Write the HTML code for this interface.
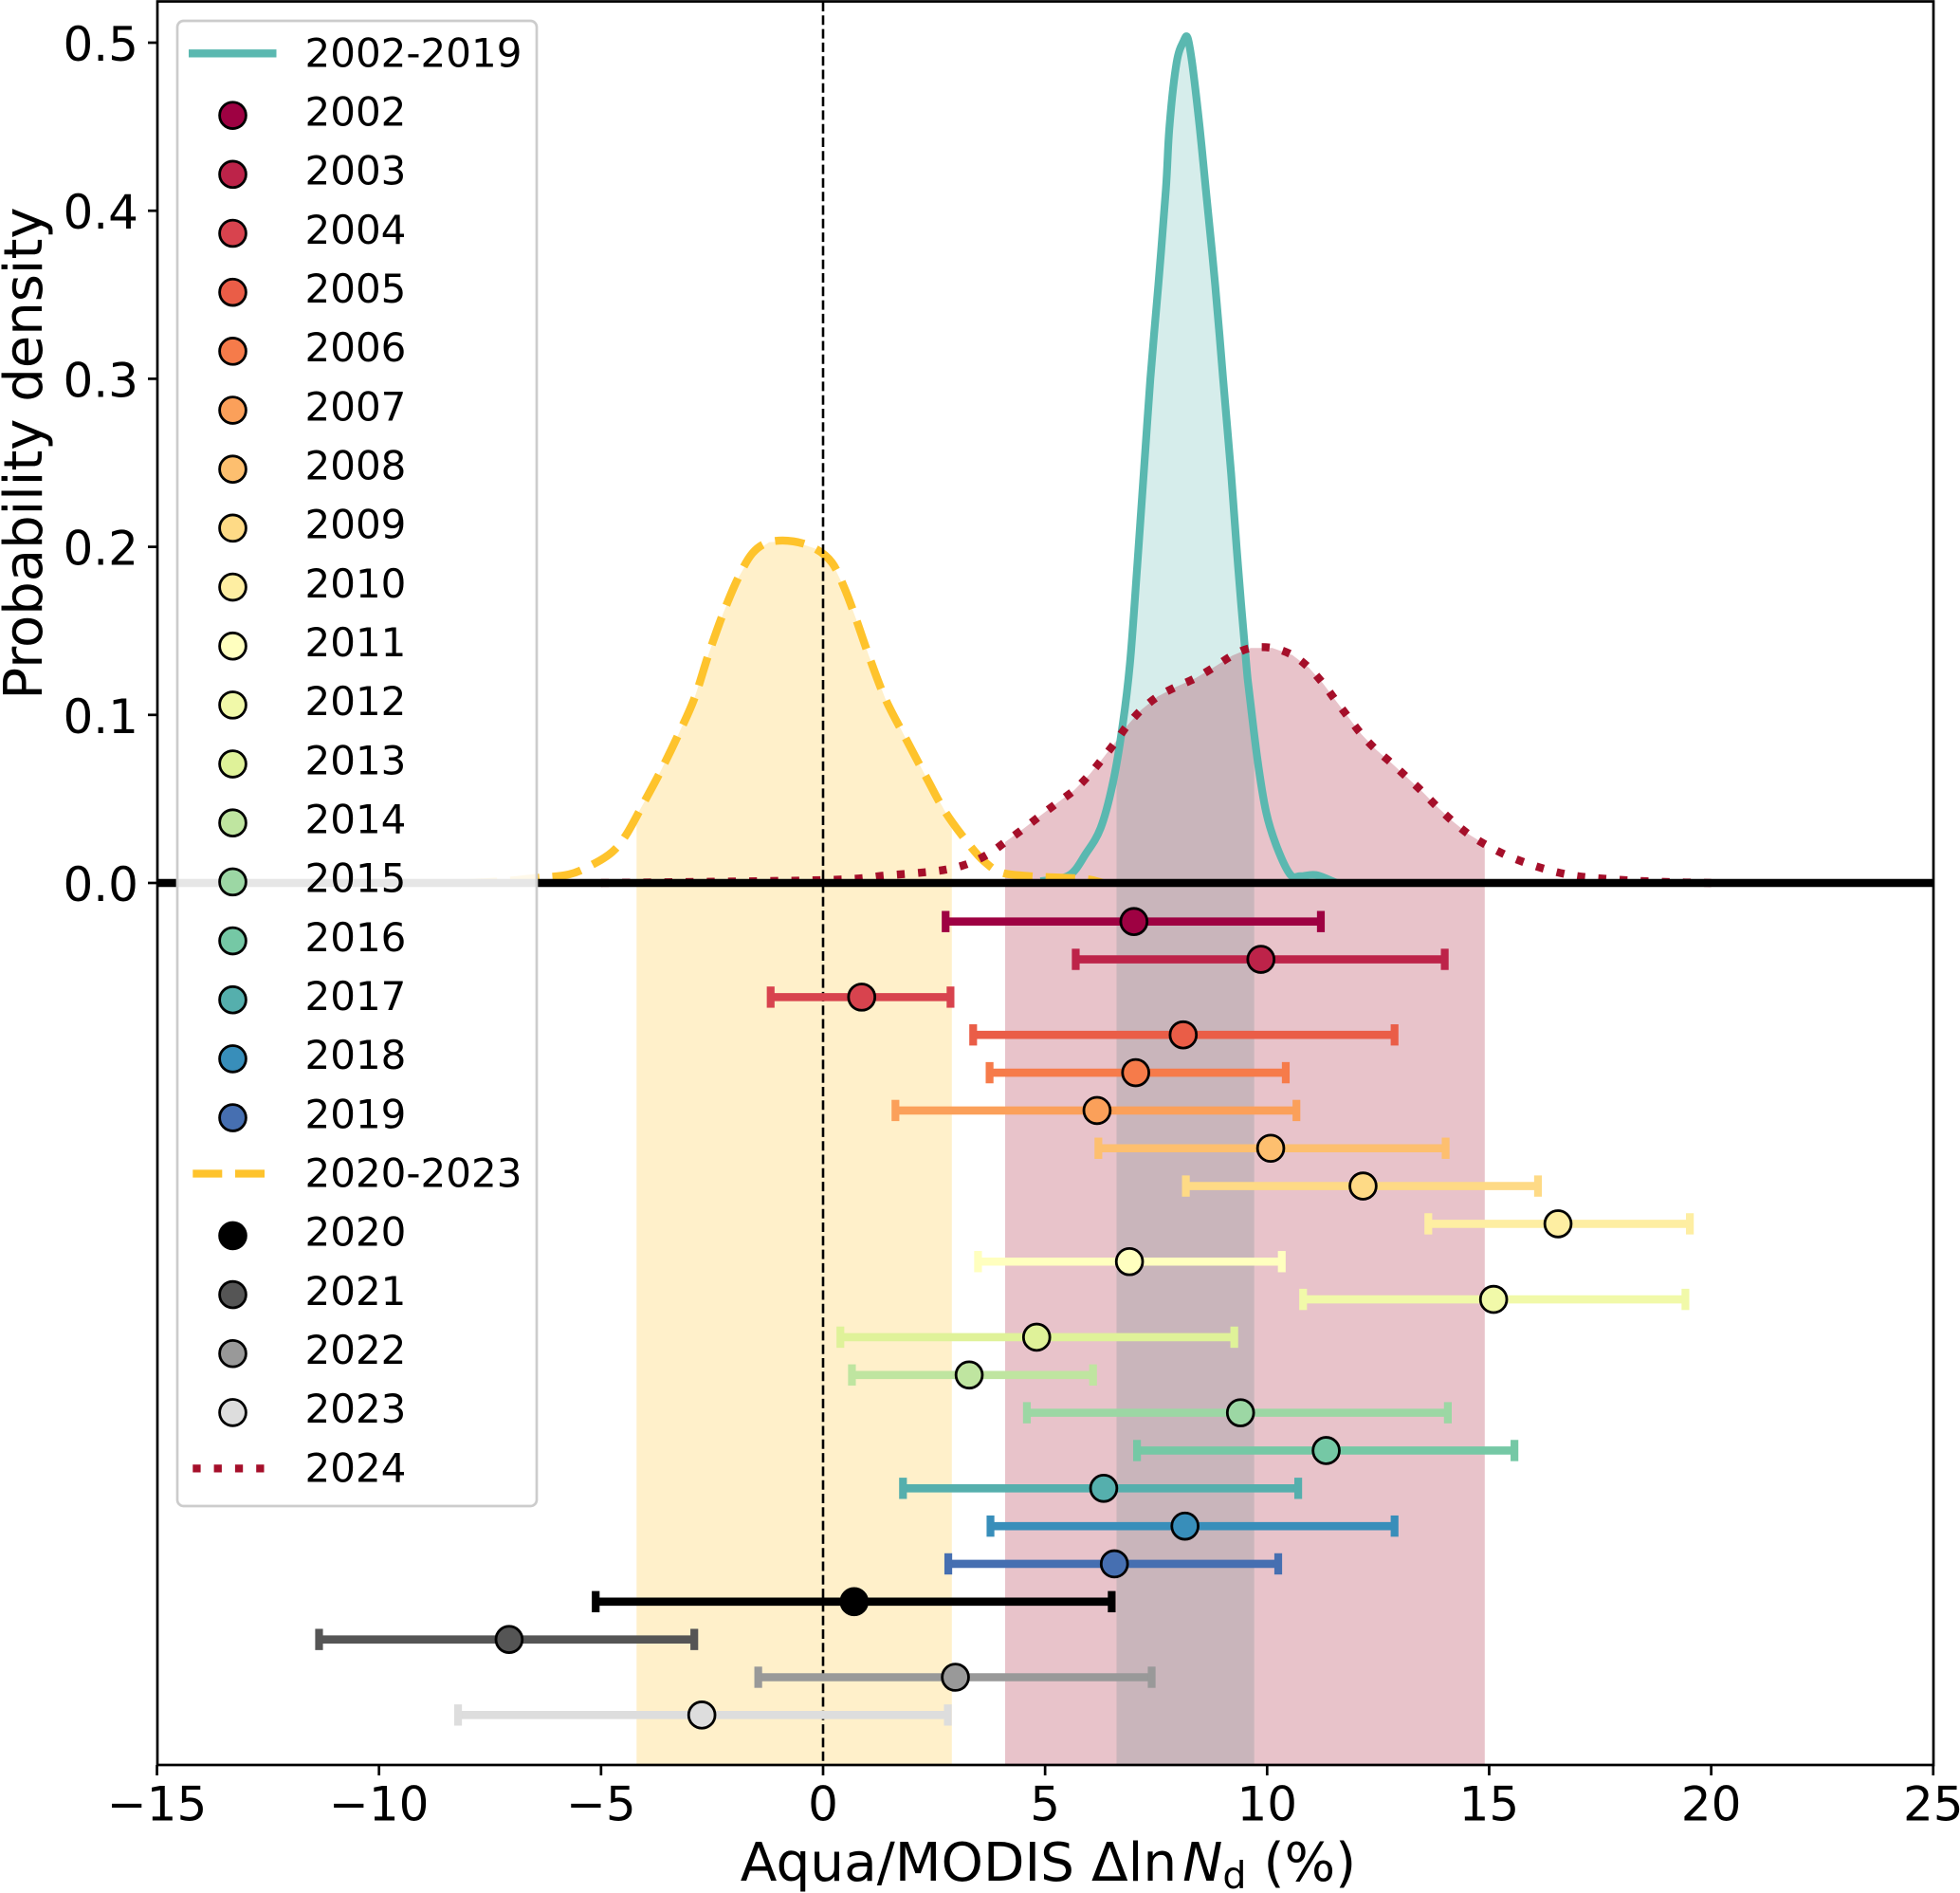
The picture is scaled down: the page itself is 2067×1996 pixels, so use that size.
<!DOCTYPE html>
<html lang="en">
<head>
<meta charset="utf-8">
<title>Aqua/MODIS probability density chart</title>
<style>
html,body{margin:0;padding:0;background:#fff;}
svg{display:block;font-family:"DejaVu Sans","Liberation Sans",sans-serif;}
</style>
</head>
<body>
<svg id="chart" xmlns="http://www.w3.org/2000/svg" width="2067" height="1996" viewBox="0 0 2067 1996">
<rect x="0" y="0" width="2067" height="1996" fill="#ffffff"/>
<defs><clipPath id="plot-clip"><rect x="166" y="2" width="1873" height="1859"/></clipPath></defs>
<g id="fills" clip-path="url(#plot-clip)"></g>
<g id="curves" clip-path="url(#plot-clip)"></g>
<g id="bars" clip-path="url(#plot-clip)"></g>
<g id="legend"></g>
<g id="axes"></g>
<text transform="translate(44,478) rotate(-90)" text-anchor="middle" font-size="56">Probability density</text>
<text x="1105.5" y="1983" text-anchor="middle" font-size="56.5">Aqua/MODIS Δln<tspan dx="6" font-style="italic">N</tspan><tspan font-size="39.5" dy="8">d</tspan><tspan dy="-8"> (%)</tspan></text>
</svg>
<script>
var years = [2002,2003,2004,2005,2006,2007,2008,2009,2010,2011,2012,2013,2014,2015,2016,2017,2018,2019,2020,2021,2022,2023];
var medians = [7.0,9.86,0.87,8.11,7.04,6.17,10.08,12.16,16.55,6.9,15.1,4.81,3.29,9.4,11.33,6.32,8.15,6.56,0.7,-7.07,2.98,-2.73];
var lowerBounds = [2.76,5.69,-1.18,3.38,3.75,1.63,6.2,8.17,13.63,3.49,10.81,0.39,0.65,4.59,7.07,1.8,3.77,2.82,-5.12,-11.35,-1.46,-8.22];
var upperBounds = [11.21,14.0,2.87,12.87,10.42,10.66,14.02,16.1,19.52,10.33,19.42,9.26,6.08,14.07,15.57,10.7,12.87,10.25,6.5,-2.9,7.4,2.81];
var yearColors = ['#9e0142','#bd2349','#d8434e','#ea5d47','#f67b4a','#fba05a','#fdbf6f','#feda86','#feeea2','#ffffbf','#f1f9a9','#dff299','#bfe5a0','#9cd7a4','#75c8a5','#55afad','#388eba','#466fb1','#000000','#555555','#999999','#dddddd'];

var tealX = [4.9,5.54,5.92,6.25,6.52,6.74,6.91,7.07,7.22,7.37,7.55,7.72,7.8,7.96,8.12,8.21,8.31,8.48,8.62,8.83,9.01,9.19,9.35,9.53,9.59,9.78,9.98,10.22,10.52,10.75,11.1,11.52,11.6];
var tealY = [0.001,0.0045,0.0175,0.0327,0.0587,0.0927,0.1304,0.1868,0.2432,0.2997,0.356,0.4125,0.45,0.488,0.501,0.5028,0.488,0.45,0.4125,0.356,0.2997,0.2432,0.1868,0.1304,0.115,0.0739,0.0418,0.0214,0.005,0.004,0.0047,0.0005,0];
var yellowX = [-8,-7.2,-6.45,-5.73,-5.19,-4.75,-4.43,-4.04,-3.66,-3.28,-2.9,-2.58,-2.25,-1.92,-1.59,-1.21,-0.67,-0.18,0.2,0.48,0.75,1.02,1.4,1.84,2.33,2.76,3.31,3.63,4.01,4.67,5.87,6.3];
var yellowY = [0,0.001,0.003,0.005,0.011,0.0184,0.0288,0.0476,0.0664,0.0871,0.1097,0.136,0.1604,0.1811,0.1962,0.2028,0.2033,0.199,0.1906,0.1755,0.1566,0.136,0.1097,0.0871,0.0626,0.0419,0.0222,0.0128,0.0062,0.004,0.0024,0];
var redX = [-5,0,1.45,2.38,2.87,3.31,3.74,4.12,4.51,4.89,5.27,5.65,5.98,6.28,6.58,6.85,7.17,7.54,7.96,8.39,8.81,9.22,9.63,10.12,10.57,10.94,11.26,11.54,11.83,12.12,12.44,12.81,13.16,13.5,13.83,14.18,14.55,14.96,15.39,15.83,16.28,16.74,17.21,18.15,19.1,20];
var redY = [0,0.0017,0.0045,0.0066,0.0085,0.0119,0.0175,0.0247,0.0322,0.04,0.0476,0.0551,0.0639,0.0735,0.0837,0.0937,0.1031,0.111,0.1168,0.1219,0.1285,0.1354,0.1398,0.1398,0.1356,0.1281,0.1187,0.1087,0.0986,0.0886,0.0796,0.0711,0.0626,0.0542,0.0453,0.0367,0.0288,0.0222,0.0165,0.0119,0.0081,0.0052,0.0034,0.0015,0.0005,0];

var tealSpan = [6.61,9.71];
var yellowSpan = [-4.2,2.9];
var redSpan = [4.1,14.9];

var xTicks = [-15,-10,-5,0,5,10,15,20,25];
var yTicks = [0,0.1,0.2,0.3,0.4,0.5];
var yTickLabels = ['0.0','0.1','0.2','0.3','0.4','0.5'];

var TEAL = '#5ab8b0', YELLOW = '#fec32c', RED = '#a50f2a';
var NS = 'http://www.w3.org/2000/svg';
var AXIS_MIN_Y = -0.5248;

function xScale(v){ return 868 + 46.83 * v; }
function yScale(v){ return 931 - 1772 * v; }
function rowScale(i){ return 971.7 + 39.84 * i; }
function legendBaseline(i){ return 70.3 + 62.17 * i; }

function node(tag, parent){
  var el = document.createElementNS(NS, tag);
  parent.appendChild(el);
  return el;
}
function interp(xs, ys, v){
  for (var i = 1; i < xs.length; i++) {
    if (v <= xs[i]) {
      var t = (v - xs[i-1]) / (xs[i] - xs[i-1]);
      return ys[i-1] + t * (ys[i] - ys[i-1]);
    }
  }
  return ys[ys.length-1];
}
function smoothPath(xs, ys){
  var p = xs.map(function(v, i){ return [xScale(v), yScale(ys[i])]; });
  var d = 'M' + p[0][0].toFixed(1) + ' ' + p[0][1].toFixed(1);
  for (var i = 0; i < p.length - 1; i++) {
    var a = p[Math.max(i-1, 0)], b = p[i], c = p[i+1], e = p[Math.min(i+2, p.length-1)];
    var c1x = b[0] + (c[0]-a[0])/6, c1y = b[1] + (c[1]-a[1])/6;
    var c2x = c[0] - (e[0]-b[0])/6, c2y = c[1] - (e[1]-b[1])/6;
    d += ' C' + c1x.toFixed(1) + ' ' + c1y.toFixed(1) + ' ' + c2x.toFixed(1) + ' ' + c2y.toFixed(1) + ' ' + c[0].toFixed(1) + ' ' + c[1].toFixed(1);
  }
  return d;
}
function fillPoints(xs, ys, span){
  var pts = [[span[0], AXIS_MIN_Y], [span[0], interp(xs, ys, span[0])]];
  for (var i = 0; i < xs.length; i++) {
    if (xs[i] > span[0] && xs[i] < span[1]) pts.push([xs[i], ys[i]]);
  }
  pts.push([span[1], interp(xs, ys, span[1])]);
  pts.push([span[1], AXIS_MIN_Y]);
  return pts.map(function(p){ return xScale(p[0]).toFixed(1) + ',' + yScale(p[1]).toFixed(1); }).join(' ');
}

var fills = document.getElementById('fills');
var curves = document.getElementById('curves');
var bars = document.getElementById('bars');
var legend = document.getElementById('legend');
var axes = document.getElementById('axes');

/* shaded intervals */
var fillTeal = node('polygon', fills);


fillTeal.setAttribute('points', fillPoints(tealX, tealY, tealSpan));
fillTeal.setAttribute('fill', TEAL);
fillTeal.setAttribute('fill-opacity', '0.25');

var fillYellow = node('polygon', fills);


fillYellow.setAttribute('points', fillPoints(yellowX, yellowY, yellowSpan));
fillYellow.setAttribute('fill', YELLOW);
fillYellow.setAttribute('fill-opacity', '0.25');

var fillRed = node('polygon', fills);


fillRed.setAttribute('points', fillPoints(redX, redY, redSpan));
fillRed.setAttribute('fill', RED);
fillRed.setAttribute('fill-opacity', '0.25');

/* density curves */
var lineTeal = node('path', curves);


lineTeal.setAttribute('d', smoothPath(tealX, tealY));
lineTeal.setAttribute('fill', 'none');
lineTeal.setAttribute('stroke', TEAL);
lineTeal.setAttribute('stroke-width', '8.2');
lineTeal.setAttribute('stroke-linejoin', 'round');

var lineYellow = node('path', curves);


lineYellow.setAttribute('d', smoothPath(yellowX, yellowY));
lineYellow.setAttribute('fill', 'none');
lineYellow.setAttribute('stroke', YELLOW);
lineYellow.setAttribute('stroke-width', '8.4');
lineYellow.setAttribute('stroke-dasharray', '31 13.7');
lineYellow.setAttribute('stroke-linejoin', 'round');

var lineRed = node('path', curves);


lineRed.setAttribute('d', smoothPath(redX, redY));
lineRed.setAttribute('fill', 'none');
lineRed.setAttribute('stroke', RED);
lineRed.setAttribute('stroke-width', '8.4');
lineRed.setAttribute('stroke-dasharray', '8.3 14');

/* reference lines */
var zeroV = node('line', curves);


zeroV.setAttribute('x1', xScale(0));
zeroV.setAttribute('x2', xScale(0));
zeroV.setAttribute('y1', 2);
zeroV.setAttribute('y2', 1861);
zeroV.setAttribute('stroke', '#000');
zeroV.setAttribute('stroke-width', '2.6');
zeroV.setAttribute('stroke-dasharray', '10 4.3');

var zeroH = node('line', curves);


zeroH.setAttribute('x1', 166);
zeroH.setAttribute('x2', 2039);
zeroH.setAttribute('y1', yScale(0));
zeroH.setAttribute('y2', yScale(0));
zeroH.setAttribute('stroke', '#000');
zeroH.setAttribute('stroke-width', '8.4');

/* per-year error bars */
years.forEach(function(year, i){
  var c = yearColors[i], yy = rowScale(i);
  var g = node('g', bars);
  
  

  var bar = node('line', g);
  
  
  bar.setAttribute('x1', xScale(lowerBounds[i]));
  bar.setAttribute('x2', xScale(upperBounds[i]));
  bar.setAttribute('y1', yy);
  bar.setAttribute('y2', yy);
  bar.setAttribute('stroke', c);
  bar.setAttribute('stroke-width', '8.6');

  var capL = node('line', g);
  
  
  capL.setAttribute('x1', xScale(lowerBounds[i]));
  capL.setAttribute('x2', xScale(lowerBounds[i]));
  capL.setAttribute('y1', yy - 11.2);
  capL.setAttribute('y2', yy + 11.2);
  capL.setAttribute('stroke', c);
  capL.setAttribute('stroke-width', '8.2');

  var capU = node('line', g);
  
  
  capU.setAttribute('x1', xScale(upperBounds[i]));
  capU.setAttribute('x2', xScale(upperBounds[i]));
  capU.setAttribute('y1', yy - 11.2);
  capU.setAttribute('y2', yy + 11.2);
  capU.setAttribute('stroke', c);
  capU.setAttribute('stroke-width', '8.2');

  var dot = node('circle', g);
  
  
  dot.setAttribute('cx', xScale(medians[i]));
  dot.setAttribute('cy', yy);
  dot.setAttribute('r', '13.9');
  dot.setAttribute('fill', c);
  dot.setAttribute('stroke', '#000');
  dot.setAttribute('stroke-width', '2.8');
});

/* legend */
var frame = node('rect', legend);


frame.setAttribute('x', '187');
frame.setAttribute('y', '22');
frame.setAttribute('width', '379');
frame.setAttribute('height', '1566');
frame.setAttribute('rx', '6.5');
frame.setAttribute('fill', '#ffffff');
frame.setAttribute('fill-opacity', '0.9');
frame.setAttribute('stroke', '#cccccc');
frame.setAttribute('stroke-width', '2.7');

var legendRows = [];
legendRows.push({label: '2002-2019', kind: 'solid', color: TEAL});
years.slice(0, 18).forEach(function(y, i){ legendRows.push({label: String(y), kind: 'dot', color: yearColors[i]}); });
legendRows.push({label: '2020-2023', kind: 'dash', color: YELLOW});
years.slice(18).forEach(function(y, i){ legendRows.push({label: String(y), kind: 'dot', color: yearColors[18 + i]}); });
legendRows.push({label: '2024', kind: 'dotted', color: RED});

legendRows.forEach(function(row, i){
  var base = legendBaseline(i);
  var g = node('g', legend);
  
  

  if (row.kind === 'dot') {
    var m = node('circle', g);
    
    
    m.setAttribute('cx', '245.5');
    m.setAttribute('cy', base - 10.8);
    m.setAttribute('r', '13.9');
    m.setAttribute('fill', row.color);
    m.setAttribute('stroke', '#000');
    m.setAttribute('stroke-width', '2.8');
  } else {
    var s = node('line', g);
    
    
    s.setAttribute('x1', row.kind === 'solid' ? '199' : '203.3');
    s.setAttribute('x2', row.kind === 'solid' ? '291.5' : '287.4');
    s.setAttribute('y1', base - 14);
    s.setAttribute('y2', base - 14);
    s.setAttribute('stroke', row.color);
    s.setAttribute('stroke-width', '8.3');
    if (row.kind === 'dash') s.setAttribute('stroke-dasharray', '31 13.7');
    if (row.kind === 'dotted') s.setAttribute('stroke-dasharray', '8.3 14');
  }

  var t = node('text', g);
  
  
  t.setAttribute('x', '321.5');
  t.setAttribute('y', base);
  t.setAttribute('font-size', '42');
  t.textContent = row.label;
});

/* axes */
var spine = node('rect', axes);


spine.setAttribute('x', '166');
spine.setAttribute('y', '1.5');
spine.setAttribute('width', '1873');
spine.setAttribute('height', '1859.5');
spine.setAttribute('fill', 'none');
spine.setAttribute('stroke', '#000');
spine.setAttribute('stroke-width', '2.7');

xTicks.forEach(function(v){
  var tk = node('line', axes);
  
  
  tk.setAttribute('x1', xScale(v));
  tk.setAttribute('x2', xScale(v));
  tk.setAttribute('y1', 1861);
  tk.setAttribute('y2', 1872);
  tk.setAttribute('stroke', '#000');
  tk.setAttribute('stroke-width', '2.7');

  var lb = node('text', axes);
  
  
  lb.setAttribute('x', xScale(v));
  lb.setAttribute('y', 1919.5);
  lb.setAttribute('text-anchor', 'middle');
  lb.setAttribute('font-size', '50');
  lb.textContent = (v < 0 ? '\u2212' : '') + Math.abs(v);
});

yTicks.forEach(function(v, i){
  var tk = node('line', axes);
  
  
  tk.setAttribute('x1', 156);
  tk.setAttribute('x2', 166);
  tk.setAttribute('y1', yScale(v));
  tk.setAttribute('y2', yScale(v));
  tk.setAttribute('stroke', '#000');
  tk.setAttribute('stroke-width', '2.7');

  var lb = node('text', axes);
  
  
  lb.setAttribute('x', 146);
  lb.setAttribute('y', yScale(v) + 19);
  lb.setAttribute('text-anchor', 'end');
  lb.setAttribute('font-size', '50');
  lb.textContent = yTickLabels[i];
});
</script>
</body>
</html>
